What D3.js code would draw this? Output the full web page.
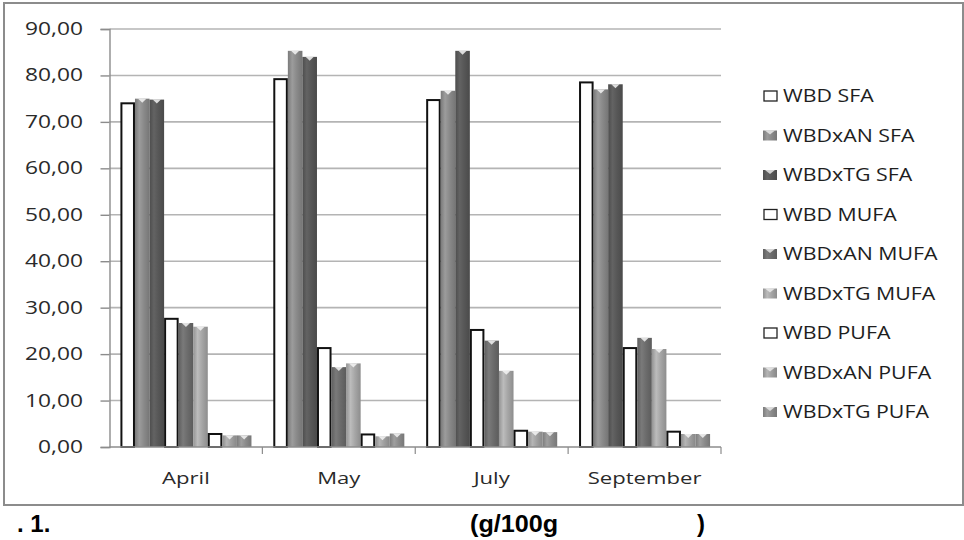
<!DOCTYPE html>
<html>
<head>
<meta charset="utf-8">
<script src="https://cdn.jsdelivr.net/npm/d3@7/dist/d3.min.js"></script>
<style>
  html, body { margin: 0; padding: 0; background: #fff; }
  svg { display: block; }
</style>
</head>
<body>
<svg id="chart" width="964" height="540"></svg>
<script>
// Fatty acid fractions (g/100g) per sampling month
const months = ["April", "May", "July", "September"];
const seriesNames = [
  "WBD SFA", "WBDxAN SFA", "WBDxTG SFA",
  "WBD MUFA", "WBDxAN MUFA", "WBDxTG MUFA",
  "WBD PUFA", "WBDxAN PUFA", "WBDxTG PUFA"
];
const wbdSFA     = [74.0, 79.2, 74.7, 78.5];
const wbdxanSFA  = [75.0, 85.3, 76.7, 77.0];
const wbdxtgSFA  = [74.8, 84.0, 85.3, 78.1];
const wbdMUFA    = [27.6, 21.3, 25.2, 21.3];
const wbdxanMUFA = [26.7, 17.2, 22.9, 23.5];
const wbdxtgMUFA = [25.9, 18.0, 16.4, 21.1];
const wbdPUFA    = [2.8, 2.7, 3.5, 3.3];
const wbdxanPUFA = [2.5, 2.3, 3.3, 2.8];
const wbdxtgPUFA = [2.5, 2.9, 3.2, 2.8];
const yTicks = [0, 10, 20, 30, 40, 50, 60, 70, 80, 90];
const captionParts = [". 1.", "(g/100g", ")"];

const seriesValues = [
  wbdSFA, wbdxanSFA, wbdxtgSFA,
  wbdMUFA, wbdxanMUFA, wbdxtgMUFA,
  wbdPUFA, wbdxanPUFA, wbdxtgPUFA
];
// null = hollow bar with black outline
const seriesTone = [
  null, "#8a8a8a", "#575757",
  null, "#6c6c6c", "#a6a6a6",
  null, "#a0a0a0", "#8c8c8c"
];

const svg = d3.select("#chart");
const defs = svg.append("defs");

const plot = { left: 109.5, right: 721, top: 29, bottom: 447 };

const x0 = d3.scaleBand()
  .domain(months)
  .range([plot.left, plot.right])
  .paddingInner(1.5 / 10.5)
  .paddingOuter(0.75 / 10.5);
const x1 = d3.scaleBand()
  .domain(d3.range(seriesNames.length))
  .range([0, x0.bandwidth()]);
const y = d3.scaleLinear().domain([0, 90]).range([plot.bottom, plot.top]);

const fmt = d3.formatLocale({ decimal: ",", thousands: ".", grouping: [3], currency: ["", ""] }).format(".2f");

// Cylinder-like shading for the filled bars
seriesTone.forEach((tone, i) => {
  if (!tone) return;
  const c = d3.color(tone);
  const g = defs.append("linearGradient").attr("id", "grad" + i)
    .attr("x1", "0%").attr("x2", "100%").attr("y1", "0%").attr("y2", "0%");
  g.append("stop").attr("offset", "0%").attr("stop-color", c.darker(0.35));
  g.append("stop").attr("offset", "30%").attr("stop-color", c.brighter(0.35));
  g.append("stop").attr("offset", "60%").attr("stop-color", c);
  g.append("stop").attr("offset", "100%").attr("stop-color", c.darker(0.45));
});

// Outer frame
svg.append("rect")
  .attr("x", 4).attr("y", 3).attr("width", 959).attr("height", 502)
  .attr("fill", "#fff").attr("stroke", "#8c8c8c").attr("stroke-width", 2);

// Gridlines
svg.append("g").selectAll("line")
  .data(yTicks.filter(t => t > 0))
  .join("line")
  .attr("x1", plot.left).attr("x2", plot.right)
  .attr("y1", d => y(d)).attr("y2", d => y(d))
  .attr("stroke", "#b4b4b4").attr("stroke-width", 1.6);

// Y axis
const yAxis = svg.append("g")
  .attr("transform", `translate(${plot.left},0)`)
  .call(d3.axisLeft(y).tickValues(yTicks).tickSize(9).tickFormat(""));
yAxis.select(".domain").attr("stroke", "#8c8c8c").attr("stroke-width", 1.4);
yAxis.selectAll(".tick line").attr("stroke", "#8c8c8c").attr("stroke-width", 1.4);

function scaledText(parent, x, yPos, txt, sx) {
  return parent.append("text")
    .attr("transform", `translate(${x},${yPos}) scale(${sx},1)`)
    .text(txt);
}

const yLab = svg.append("g")
  .attr("font-family", "'Open Sans', sans-serif")
  .attr("font-size", 17.5).attr("fill", "#2a2a2a")
  .attr("text-anchor", "end");
yTicks.forEach(t => scaledText(yLab, 83, y(t) + 6, fmt(t), 1.3));

// Bars
const groups = svg.append("g").selectAll("g")
  .data(months)
  .join("g")
  .attr("transform", d => `translate(${x0(d)},0)`);

groups.each(function(m, mi) {
  const g = d3.select(this);
  seriesValues.forEach((vals, si) => {
    const v = vals[mi];
    const bx = x1(si), bw = x1.bandwidth();
    const tone = seriesTone[si];
    if (!tone) {
      g.append("rect")
        .attr("x", bx + 1).attr("y", y(v))
        .attr("width", bw - 2).attr("height", y(0) - y(v))
        .attr("fill", "#fff").attr("stroke", "#111").attr("stroke-width", 2);
    } else {
      g.append("rect")
        .attr("x", bx).attr("y", y(v))
        .attr("width", bw).attr("height", y(0) - y(v))
        .attr("fill", `url(#grad${si})`);
      // light notch on the bar top
      g.append("path")
        .attr("d", `M${bx + bw * 0.22},${y(v)} L${bx + bw * 0.78},${y(v)} L${bx + bw * 0.5},${y(v) + 4} Z`)
        .attr("fill", "#f4f4f4").attr("opacity", 0.85);
    }
  });
});

// X axis baseline and category ticks
const xAxis = svg.append("g")
  .attr("transform", `translate(0,${plot.bottom})`);
xAxis.append("line")
  .attr("x1", plot.left).attr("x2", plot.right)
  .attr("stroke", "#8c8c8c").attr("stroke-width", 1.4);
const boundaries = months.map(m => x0(m) - x0.step() * x0.paddingOuter()).concat([plot.right]);
xAxis.selectAll("line.tk")
  .data(boundaries.slice(1))
  .join("line").attr("class", "tk")
  .attr("x1", d => d).attr("x2", d => d)
  .attr("y1", 0).attr("y2", 7)
  .attr("stroke", "#8c8c8c").attr("stroke-width", 1.2);

const xLab = svg.append("g")
  .attr("font-family", "'Open Sans', sans-serif")
  .attr("font-size", 17).attr("fill", "#2a2a2a")
  .attr("text-anchor", "middle");
months.forEach(m => scaledText(xLab, x0(m) + x0.bandwidth() / 2, 484, m, 1.3));

// Legend
const legend = svg.append("g")
  .attr("font-family", "'Open Sans', sans-serif")
  .attr("font-size", 17.5).attr("fill", "#1e1e1e");
seriesNames.forEach((name, i) => {
  const ly = 96 + i * 39.5;
  const tone = seriesTone[i];
  if (!tone) {
    legend.append("rect")
      .attr("x", 764).attr("y", ly - 5).attr("width", 13).attr("height", 10)
      .attr("fill", "#fff").attr("stroke", "#222").attr("stroke-width", 1.3);
  } else {
    legend.append("rect")
      .attr("x", 763).attr("y", ly - 5).attr("width", 14).attr("height", 10)
      .attr("fill", `url(#grad${i})`);
    legend.append("path")
      .attr("d", `M765,${ly - 5} L775,${ly - 5} L770,${ly - 1} Z`)
      .attr("fill", "#eee").attr("opacity", 0.8);
  }
  scaledText(legend, 783, ly + 6, name, 1.22);
});

// Caption under the frame
const cap = svg.append("g")
  .attr("font-family", "'Liberation Sans Narrow', 'Liberation Sans', Arial, sans-serif")
  .attr("font-weight", "bold").attr("font-size", 24).attr("fill", "#000");
scaledText(cap, 17, 532, captionParts[0], 1.0);
scaledText(cap, 470, 532, captionParts[1], 1.05);
scaledText(cap, 697, 532, captionParts[2], 1.0);
</script>
</body>
</html>
